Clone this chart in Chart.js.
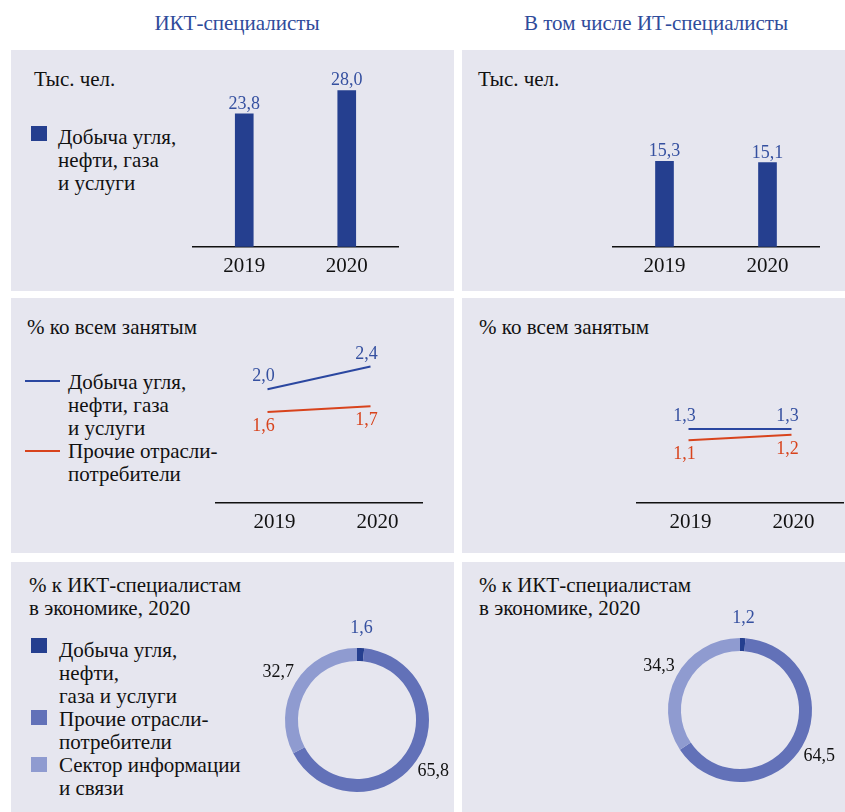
<!DOCTYPE html>
<html lang="ru">
<head>
<meta charset="utf-8">
<title>ИКТ-специалисты</title>
<script src="https://cdn.jsdelivr.net/npm/chart.js@4.4.1/dist/chart.umd.min.js"></script>
<style>
  html, body { margin: 0; padding: 0; background: #fff; overflow: hidden; }
  #page { position: relative; width: 845px; height: 812px; font-family: "Liberation Serif", "DejaVu Serif", serif; color: #111; }
  .head { position: absolute; top: 11px; text-align: center; font-size: 21px; color: #2f4b9b; }
  .panel { position: absolute; background: #e6e6ef; }
  .txt { position: absolute; font-size: 21px; line-height: 23px; white-space: nowrap; }
  .sq { position: absolute; width: 16px; height: 15px; }
  .ln { position: absolute; width: 35px; height: 2px; }
  .box { position: absolute; }
  .box canvas { display: block; }
</style>
</head>
<body>
<div id="page">
  <div class="head" style="left:11px;width:452px">ИКТ-специалисты</div>
  <div class="head" style="left:462px;width:388px">В том числе ИТ-специалисты</div>

  <div class="panel" style="left:11px;top:50px;width:443px;height:241px"></div>
  <div class="panel" style="left:462px;top:50px;width:383px;height:241px"></div>
  <div class="panel" style="left:11px;top:298px;width:443px;height:255px"></div>
  <div class="panel" style="left:462px;top:298px;width:383px;height:255px"></div>
  <div class="panel" style="left:11px;top:562px;width:443px;height:250px"></div>
  <div class="panel" style="left:462px;top:562px;width:383px;height:250px"></div>

  <!-- row 1 -->
  <div class="txt" style="left:34px;top:68px">Тыс. чел.</div>
  <div class="sq" style="left:31px;top:126px;background:#253f8f"></div>
  <div class="txt" style="left:58px;top:126px">Добыча угля,<br>нефти, газа<br>и услуги</div>
  <div class="txt" style="left:478px;top:68px">Тыс. чел.</div>

  <!-- row 2 -->
  <div class="txt" style="left:27px;top:316px">% ко всем занятым</div>
  <div class="ln" style="left:25px;top:380px;background:#2b47a0"></div>
  <div class="ln" style="left:25px;top:450px;background:#d8431c"></div>
  <div class="txt" style="left:68px;top:371px">Добыча угля,<br>нефти, газа<br>и услуги<br>Прочие отрасли-<br>потребители</div>
  <div class="txt" style="left:479px;top:316px">% ко всем занятым</div>

  <!-- row 3 -->
  <div class="txt" style="left:29px;top:574px">% к ИКТ-специалистам<br>в экономике, 2020</div>
  <div class="sq" style="left:31px;top:638px;background:#253f8f"></div>
  <div class="sq" style="left:31px;top:710px;background:#6271b8"></div>
  <div class="sq" style="left:31px;top:757px;background:#8f9bd0"></div>
  <div class="txt" style="left:59px;top:639px">Добыча угля,<br>нефти,<br>газа и услуги<br>Прочие отрасли-<br>потребители<br>Сектор информации<br>и связи</div>
  <div class="txt" style="left:479px;top:574px">% к ИКТ-специалистам<br>в экономике, 2020</div>

  <div class="box" style="left:183px;top:40px;width:225px;height:250px"><canvas id="ictBar"></canvas></div>
  <div class="box" style="left:603px;top:40px;width:226px;height:250px"><canvas id="itBar"></canvas></div>
  <div class="box" style="left:206px;top:315px;width:226px;height:233px"><canvas id="ictLine"></canvas></div>
  <div class="box" style="left:627px;top:315px;width:218px;height:233px"><canvas id="itLine"></canvas></div>
  <div class="box" style="left:257px;top:620px;width:200px;height:200px"><canvas id="ictDonut"></canvas></div>
  <div class="box" style="left:640px;top:610px;width:200px;height:200px"><canvas id="itDonut"></canvas></div>
</div>

<script>
const years = ['2019', '2020'];
const ictThousands = [23.8, 28.0];
const itThousands = [15.3, 15.1];
const ictShareMining = [2.0, 2.4];
const ictShareOther = [1.6, 1.7];
const itShareMining = [1.3, 1.3];
const itShareOther = [1.1, 1.2];
const structureLabels = ['Добыча угля, нефти, газа и услуги', 'Прочие отрасли-потребители', 'Сектор информации и связи'];
const ictStructure2020 = [1.6, 65.8, 32.7];
const itStructure2020 = [1.2, 64.5, 34.3];

const DARK = '#253f8f';
const MID = '#6271b8';
const LIGHT = '#8f9bd0';
const LINE_BLUE = '#2b47a0';
const LINE_RED = '#d8431c';
const LABEL_BLUE = '#3550a0';
const SERIF = '"Liberation Serif", "DejaVu Serif", serif';

Chart.defaults.font.family = SERIF;
Chart.defaults.color = '#111';
Chart.defaults.animation = false;
Chart.defaults.maintainAspectRatio = false;
Chart.defaults.plugins.legend.display = false;
Chart.defaults.plugins.tooltip.enabled = false;

function fmt(v) {
    return v.toFixed(1).replace('.', ',');
}

// draws the numbers next to bars, line ends and ring segments
const valueLabels = {
    id: 'valueLabels',
    afterDatasetsDraw(chart) {
        const ctx = chart.ctx;
        ctx.save();
        ctx.font = '18px ' + SERIF;
        chart.data.datasets.forEach((ds, i) => {
            const meta = chart.getDatasetMeta(i);
            meta.data.forEach((el, j) => {
                const text = fmt(ds.data[j]);
                const color = Array.isArray(ds.labelColor) ? ds.labelColor[j] : ds.labelColor;
                ctx.fillStyle = color || '#111';
                if (meta.type === 'doughnut') {
                    const mid = (el.startAngle + el.endAngle) / 2;
                    const r = el.outerRadius + (ds.labelGap || 18);
                    ctx.textAlign = 'center';
                    ctx.textBaseline = 'middle';
                    ctx.fillText(text, el.x + Math.cos(mid) * r, el.y + Math.sin(mid) * r);
                } else if (meta.type === 'bar') {
                    ctx.textAlign = 'center';
                    ctx.textBaseline = 'alphabetic';
                    ctx.fillText(text, el.x, el.y - 5);
                } else {
                    ctx.textAlign = 'center';
                    ctx.textBaseline = 'alphabetic';
                    const y = ds.labelPos === 'below' ? el.y + 19 : el.y - 8;
                    ctx.fillText(text, el.x - 4, y);
                }
            });
        });
        ctx.restore();
    }
};

function xAxis(labelOffset) {
    return {
        grid: { display: false, drawTicks: false },
        border: { display: true, color: '#111', width: 1.5 },
        ticks: { font: { size: 21 }, color: '#111', padding: 7, labelOffset: labelOffset || 0 }
    };
}

function barChart(id, data, padding) {
    return new Chart(document.getElementById(id), {
        type: 'bar',
        data: {
            labels: years,
            datasets: [{ data: data, backgroundColor: DARK, barThickness: 18, labelColor: LABEL_BLUE }]
        },
        options: {
            layout: { padding: padding },
            scales: {
                x: xAxis(0),
                y: { display: false, min: 0, max: 34 }
            }
        },
        plugins: [valueLabels]
    });
}

function lineChart(id, mining, other, padding, labelOffset) {
    return new Chart(document.getElementById(id), {
        type: 'line',
        data: {
            labels: years,
            datasets: [
                { data: mining, borderColor: LINE_BLUE, borderWidth: 2, pointRadius: 0, labelColor: LABEL_BLUE, labelPos: 'above' },
                { data: other, borderColor: LINE_RED, borderWidth: 2, pointRadius: 0, labelColor: LINE_RED, labelPos: 'below' }
            ]
        },
        options: {
            layout: { padding: padding },
            scales: {
                x: Object.assign(xAxis(labelOffset), { offset: true }),
                y: { display: false, min: 0, max: 3 }
            }
        },
        plugins: [valueLabels]
    });
}

function donutChart(id, data) {
    return new Chart(document.getElementById(id), {
        type: 'doughnut',
        data: {
            labels: structureLabels,
            datasets: [{
                data: data,
                backgroundColor: [DARK, MID, LIGHT],
                borderWidth: 0,
                labelColor: [LABEL_BLUE, '#111', '#111'],
                labelGap: 20
            }]
        },
        options: {
            cutout: '82%',
            layout: { padding: 28 }
        },
        plugins: [valueLabels]
    });
}

barChart('ictBar', ictThousands, { left: 10, right: 10, top: 17, bottom: 4 });
barChart('itBar', itThousands, { left: 10, right: 10, top: 17, bottom: 4 });
lineChart('ictLine', ictShareMining, ictShareOther, { left: 10, right: 10, top: 17.5, bottom: 6 }, 7);
lineChart('itLine', itShareMining, itShareOther, { left: 10, right: 2, top: 17.5, bottom: 6 }, 2);
donutChart('ictDonut', ictStructure2020);
donutChart('itDonut', itStructure2020);
</script>
</body>
</html>
